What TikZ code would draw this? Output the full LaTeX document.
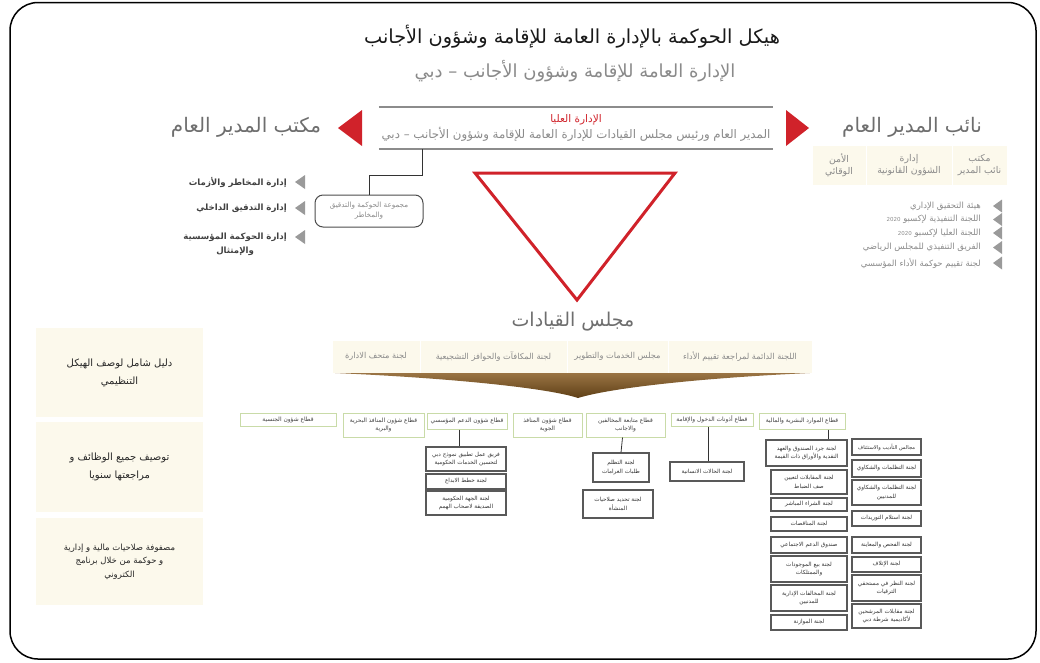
\documentclass[tikz,border=0pt]{standalone}
\usepackage{fontspec}
\usepackage{tikz}
\usetikzlibrary{positioning}
\newfontfamily\arabicfont[Script=Arabic]{DejaVu Sans}
\TeXXeTstate=1
\newcommand{\arl}[1]{\beginR #1\endR}

\definecolor{govred}{HTML}{D0222A}
\definecolor{headgray}{HTML}{6E6E6E}
\definecolor{txtgray}{HTML}{8A8A8A}
\definecolor{linegray}{HTML}{8C8C8C}
\definecolor{bulletgray}{HTML}{9A9A9A}
\definecolor{cream}{HTML}{FCF9EC}
\definecolor{sectgreen}{HTML}{C9DBA8}
\definecolor{brownA}{HTML}{9A7444}
\definecolor{brownB}{HTML}{5E3F16}

\tikzset{
  wh/.style 2 args={minimum width=#1pt, minimum height=#2pt},
  titletext/.style={font={\arabicfont\fontsize{19.3}{23}\selectfont}, text=black!90},
  subtext/.style={font={\arabicfont\fontsize{18}{22}\selectfont}, text=txtgray},
  headtext/.style={font={\arabicfont\fontsize{20}{24}\selectfont}, text=headgray},
  gmolist/.style={anchor=east, align=center, inner sep=1pt, font={\arabicfont\bfseries\fontsize{8.6}{14}\selectfont}, text=black!75},
  dgmlist/.style={anchor=east, inner sep=1pt, font={\arabicfont\fontsize{8.5}{9}\selectfont}, text=txtgray},
  creamcell/.style={fill=cream, draw=white, line width=1pt, align=center, inner sep=1pt, font={\arabicfont\fontsize{9.3}{12}\selectfont}, text=txtgray},
  notebox/.style={fill=cream, align=center, inner sep=2pt, font={\arabicfont\fontsize{10}{18}\selectfont}, text=black!85},
  sectorbox/.style={draw=sectgreen, line width=1pt, fill=white, align=center, inner sep=1pt, font={\arabicfont\fontsize{5.9}{8.5}\selectfont}, text=black!75},
  cmtebox/.style={draw=black!65, line width=1.1pt, fill=white, align=center, inner sep=1pt, font={\arabicfont\fontsize{5.7}{8.5}\selectfont}, text=black!80},
  link/.style={draw=black!80, line width=0.8pt}
}

\begin{document}
\begin{tikzpicture}[x=1pt, y=-1pt, line join=miter]
  \useasboundingbox (0,0) rectangle (1040,662);
  \draw[line width=1.5pt, rounded corners=28pt] (10,2.5) rectangle (1036,659);

  % Titles
  \node[titletext] (title) at (572,37) {\arl{هيكل الحوكمة بالإدارة العامة للإقامة وشؤون الأجانب}};
  \node[subtext] (subtitle) at (575,71) {\arl{الإدارة العامة للإقامة وشؤون الأجانب – دبي}};

  % Top management
  \node[wh={394}{42}, align=center, inner sep=0pt, font={\arabicfont\fontsize{11.8}{16}\selectfont}, text=txtgray] (top) at (576,128)
    {{\fontsize{10.5}{16}\selectfont\color{govred}\arl{الإدارة العليا}}\\\arl{المدير العام ورئيس مجلس القيادات للإدارة العامة للإقامة وشؤون الأجانب – دبي}};
  \draw[linegray, line width=1.5pt] (top.north west) -- (top.north east);
  \draw[linegray, line width=1.5pt] (top.south west) -- (top.south east);
  \fill[govred] (338,128) -- (362,110) -- (362,146) -- cycle;
  \fill[govred] (809,128) -- (786,110) -- (786,146) -- cycle;

  \node[headtext] (gmo) at (246,127) {\arl{مكتب المدير العام}};
  \node[headtext] (dgm) at (912,127) {\arl{نائب المدير العام}};

  % General manager office
  \node[gmolist] (gm1) at (288,182) {\arl{إدارة المخاطر والأزمات}};
  \node[gmolist] (gm2) at (288,208) {\arl{إدارة التدقيق الداخلي}};
  \node[gmolist] (gm3) at (288,244) {\arl{إدارة الحوكمة المؤسسية}\\\arl{والإمتثال}};
  \foreach \y in {182,208,237}
    \fill[bulletgray] (295,\y) -- (305,\y-7) -- (305,\y+7) -- cycle;

  \node[wh={108}{32}, draw=black!70, line width=1pt, rounded corners=8pt, align=center, inner sep=1pt,
        font={\arabicfont\fontsize{7.2}{10}\selectfont}, text=txtgray] (grp) at (369,211)
    {\arl{مجموعة الحوكمة والتدقيق}\\\arl{والمخاطر}};
  \draw[link] (grp.north) -- ++(0,-19) -| ([xshift=44pt]top.south west);

  % Deputy office
  \node[creamcell, wh={56}{40}] (dg1) at (979.5,165) {\arl{مكتب}\\\arl{نائب المدير}};
  \node[creamcell, wh={86}{40}] (dg2) at (909,165) {\arl{إدارة}\\\arl{الشؤون القانونية}};
  \node[creamcell, wh={54}{40}] (dg3) at (839,165) {\arl{الأمن}\\\arl{الوقائي}};

  \node[dgmlist] (dl1) at (982,206) {\arl{هيئة التحقيق الإداري}};
  \node[dgmlist] (dl2) at (982,219.5) {\arl{اللجنة التنفيذية لإكسبو {\fontsize{5.5}{7}\selectfont\beginL 2020\endL}}};
  \node[dgmlist] (dl3) at (982,233) {\arl{اللجنة العليا لإكسبو {\fontsize{5.5}{7}\selectfont\beginL 2020\endL}}};
  \node[dgmlist] (dl4) at (982,247.5) {\arl{الفريق التنفيذي للمجلس الرياضي}};
  \node[dgmlist] (dl5) at (982,263) {\arl{لجنة تقييم حوكمة الأداء المؤسسي}};
  \foreach \y in {206,219.5,233,247.5,263}
    \fill[bulletgray] (993,\y) -- (1002,\y-6.5) -- (1002,\y+6.5) -- cycle;

  % Council
  \draw[govred, line width=3pt] (475,173) -- (675,173) -- (577,300) -- cycle;
  \node[headtext, font={\arabicfont\fontsize{19}{23}\selectfont}] (council) at (573,322) {\arl{مجلس القيادات}};

  \node[creamcell, wh={88}{33}, font={\arabicfont\fontsize{8.2}{9}\selectfont}] (cm1) at (376,356.5) {\arl{لجنة متحف الادارة}};
  \node[creamcell, wh={147}{33}, font={\arabicfont\fontsize{8.2}{9}\selectfont}] (cm2) at (493.5,356.5) {\arl{لجنة المكافآت والحوافز التشجيعية}};
  \node[creamcell, wh={101}{33}, font={\arabicfont\fontsize{8.2}{9}\selectfont}] (cm3) at (617.5,356.5) {\arl{مجلس الخدمات والتطوير}};
  \node[creamcell, wh={144}{33}, font={\arabicfont\fontsize{8.2}{9}\selectfont}] (cm4) at (740,356.5) {\arl{اللجنة الدائمة لمراجعة تقييم الأداء}};
  \shade[top color=brownA, bottom color=brownB]
    (335,373) -- (810,373) .. controls (700,378) and (610,388) .. (578,398)
    .. controls (548,388) and (450,378) .. cycle;

  % Notes
  \node[notebox, wh={167}{89}] (nt1) at (119.5,372.5) {\arl{دليل شامل لوصف الهيكل}\\\arl{التنظيمي}};
  \node[notebox, wh={167}{90}] (nt2) at (119.5,467) {\arl{توصيف جميع الوظائف و}\\\arl{مراجعتها سنويا}};
  \node[notebox, wh={167}{87}, font={\arabicfont\fontsize{8.5}{13.5}\selectfont}] (nt3) at (119.5,561.5)
    {\arl{مصفوفة صلاحيات مالية و إدارية}\\\arl{و حوكمة من خلال برنامج}\\\arl{الكتروني}};

  % Sectors
  \node[sectorbox, wh={96}{13}] (s1) at (288,419.5) {\arl{قطاع شؤون الجنسية}};
  \node[sectorbox, wh={81}{24}] (s2) at (383.5,425) {\arl{قطاع شؤون المنافذ البحرية}\\\arl{والبرية}};
  \node[sectorbox, wh={80}{16}] (s3) at (467,421) {\arl{قطاع شؤون الدعم المؤسسي}};
  \node[sectorbox, wh={69}{24}] (s4) at (547.5,425) {\arl{قطاع شؤون المنافذ}\\\arl{الجوية}};
  \node[sectorbox, wh={79}{24}] (s5) at (625.5,425) {\arl{قطاع متابعة المخالفين}\\\arl{والاجانب}};
  \node[sectorbox, wh={82}{13}] (s6) at (712,419.5) {\arl{قطاع أذونات الدخول والإقامة}};
  \node[sectorbox, wh={86}{16}] (s7) at (802,421) {\arl{قطاع الموارد البشرية والمالية}};

  % Committees
  \node[cmtebox, wh={80}{24}] (c3a) at (466,459) {\arl{فريق عمل تطبيق نموذج دبي}\\\arl{لتحسين الخدمات الحكومية}};
  \node[cmtebox, wh={80}{15}] (c3b) at (466,481.5) {\arl{لجنة خطط الابداع}};
  \node[cmtebox, wh={80}{24}] (c3c) at (466,503) {\arl{لجنة الجهة الحكومية}\\\arl{الصديقة لاصحاب الهمم}};
  \node[cmtebox, wh={56}{29}] (c5a) at (621,467.5) {\arl{لجنة التظلم}\\\arl{طلبات الغرامات}};
  \node[cmtebox, wh={70}{28}] (c5b) at (618,504) {\arl{لجنة تحديد صلاحيات}\\\arl{المنشأة}};
  \node[cmtebox, wh={74}{19}] (c6a) at (707,471.5) {\arl{لجنة الحالات الانسانية}};

  \node[cmtebox, wh={81}{26}] (hr1) at (806.5,453) {\arl{لجنة جرد الصندوق والعهد}\\\arl{النقدية والأوراق ذات القيمة}};
  \node[cmtebox, wh={76}{24}] (hr2) at (809,482) {\arl{لجنة المقابلات لتعيين}\\\arl{صف الضباط}};
  \node[cmtebox, wh={76}{13}] (hr3) at (809,504.5) {\arl{لجنة الشراء المباشر}};
  \node[cmtebox, wh={76}{14}] (hr4) at (809,524) {\arl{لجنة المناقصات}};
  \node[cmtebox, wh={76}{16}] (hr5) at (809,545) {\arl{صندوق الدعم الاجتماعي}};
  \node[cmtebox, wh={76}{26}] (hr6) at (809,569) {\arl{لجنة بيع الموجودات}\\\arl{والممتلكات}};
  \node[cmtebox, wh={76}{26}] (hr7) at (809,598) {\arl{لجنة المخالفات الإدارية}\\\arl{للمدنيين}};
  \node[cmtebox, wh={76}{15}] (hr8) at (809,622.5) {\arl{لجنة الموازنة}};

  \node[cmtebox, wh={69}{16}, font={\arabicfont\fontsize{5.2}{8}\selectfont}] (hq1) at (886.5,447) {\arl{مجالس التأديب والاستئناف}};
  \node[cmtebox, wh={69}{17}] (hq2) at (886.5,468.5) {\arl{لجنة التظلمات والشكاوي}};
  \node[cmtebox, wh={69}{25}] (hq3) at (886.5,492.5) {\arl{لجنة التظلمات والشكاوي}\\\arl{للمدنيين}};
  \node[cmtebox, wh={69}{15}] (hq4) at (886.5,518.5) {\arl{لجنة استلام التوريدات}};
  \node[cmtebox, wh={69}{16}] (hq5) at (886.5,545) {\arl{لجنة الفحص والمعاينة}};
  \node[cmtebox, wh={69}{15}] (hq6) at (886.5,564.5) {\arl{لجنة الإتلاف}};
  \node[cmtebox, wh={69}{26}] (hq7) at (886.5,588) {\arl{لجنة النظر في مستحقي}\\\arl{الترقيات}};
  \node[cmtebox, wh={69}{24}] (hq8) at (886.5,616) {\arl{لجنة مقابلات المرشحين}\\\arl{لأكاديمية شرطة دبي}};

  % Links
  \draw[link] ([xshift=-8pt]s3.south) -- ([xshift=-7pt]c3a.north);
  \draw[link] ([xshift=-3pt]s5.south) -- (c5a.north);
  \draw[link] ([xshift=-4pt]s6.south) -- ([xshift=1pt]c6a.north);
  \draw[link] ([xshift=-19pt]hr1.north east |- s7.south) -- ([xshift=-19pt]hr1.north east);
\end{tikzpicture}
\end{document}
